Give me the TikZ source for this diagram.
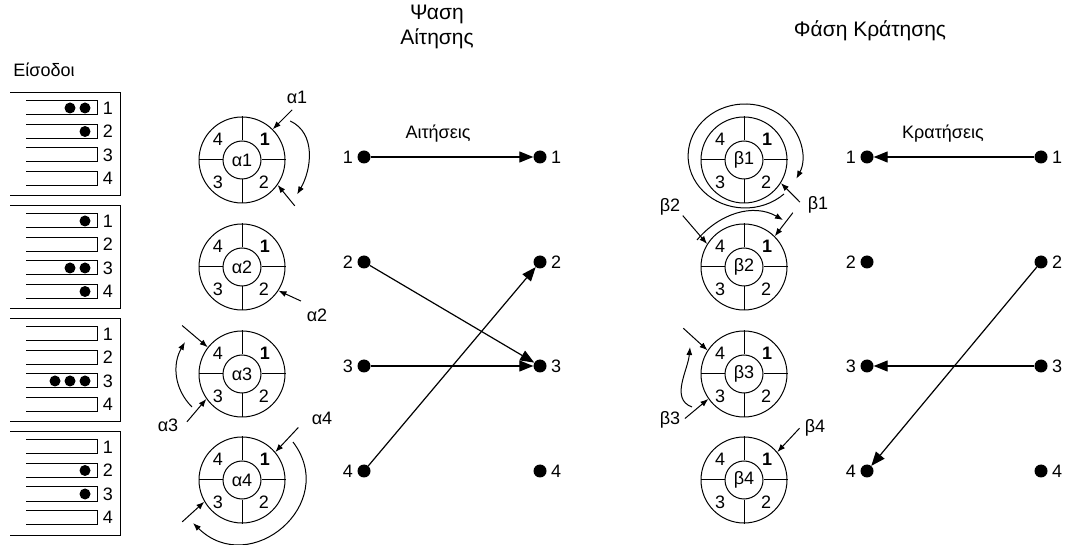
\documentclass[tikz,border=0pt]{standalone}
\usepackage{fontspec}
\setmainfont{Liberation Sans}
\usetikzlibrary{arrows.meta}

\tikzset{
  ring/.style={circle,draw,line width=1pt,minimum size=86pt,inner sep=0pt},
  hub/.style={circle,draw,line width=1pt,minimum size=38pt,inner sep=0pt},
  port/.style={circle,fill,inner sep=0pt,minimum size=13pt},
  lbl/.style={label distance=1pt},
  feed/.style={line width=1pt,-{Latex[length=8pt,width=6pt]}},
  req/.style={line width=1.2pt,-{Triangle[length=14pt,width=11pt]}},
  head/.style={font=\fontsize{21}{25}\selectfont,align=center},
}

% ring with four slots: name, centre text, x, y
\newcommand{\slotring}[4]{%
  \node[ring] (#1) at (#3,#4) {};
  \node[hub] (h#1) at (#3,#4) {#2};
  \draw[line width=1pt] (#1.north) -- (h#1.north) (#1.south) -- (h#1.south)
    (#1.east) -- (h#1.east) (#1.west) -- (h#1.west);
  \node (d4#1) at ([shift={(-24,21)}]#1.center) {4};
  \node (d1#1) at ([shift={(23,21)}]#1.center) {\bfseries 1};
  \node (d3#1) at ([shift={(-24,-22)}]#1.center) {3};
  \node (d2#1) at ([shift={(22,-22)}]#1.center) {2};
}

\begin{document}
\begin{tikzpicture}[x=1pt,y=1pt,font=\fontsize{18}{21}\selectfont]
  \useasboundingbox (0,0) rectangle (1069,544);

  \node (inputs) at (44,474) {Είσοδοι};
  \node[head] (reqhead) at (437,517) {Ψαση\\Αίτησης};
  \node[head] (grthead) at (870,513) {Φάση Κράτησης};

  % input queues
  \foreach \g in {0,...,3} {
    \pgfmathsetmacro{\gtop}{451-113*\g}
    \draw[line width=1pt] (10,\gtop) -| (120,\gtop-103) -- (10,\gtop-103);
    \foreach \q/\off in {1/15,2/38.5,3/62,4/85.5} {
      \draw[line width=1pt] (26,\gtop-\off+7) -| (97,\gtop-\off-7) -- (26,\gtop-\off-7);
      \node (n\g\q) at (108,\gtop-\off) {\q};
    }
  }
  \foreach \g/\q/\n in {0/1/2,0/2/1,1/1/1,1/3/2,1/4/1,2/3/3,3/2/1,3/3/1}
    \foreach \k in {1,...,\n}
      \fill (100-15*\k,451-113*\g-15-23.5*\q+23.5) circle (5.5);

  % rings
  \foreach \i/\y in {1/384,2/277,3/170,4/64} {
    \slotring{a\i}{α\i}{242}{\y}
    \slotring{b\i}{β\i}{744}{\y}
  }

  % requests and grants
  \foreach \i/\y in {1/387,2/282,3/178,4/73} {
    \node[port,label={[lbl]left:\i}] (rqL\i) at (364,\y) {};
    \node[port,label={[lbl]right:\i}] (rqR\i) at (540,\y) {};
    \node[port,label={[lbl]left:\i}] (bkL\i) at (867,\y) {};
    \node[port,label={[lbl]right:\i}] (bkR\i) at (1041,\y) {};
  }
  \node (reqlbl) at (438,410) {Αιτήσεις};
  \node (grtlbl) at (943,410) {Κρατήσεις};

  \draw[req] (rqL1) -- (rqR1);
  \draw[req] (rqL2) -- (rqR3);
  \draw[req] (rqL3) -- (rqR3);
  \draw[req] (rqL4) -- (rqR2);
  \draw[req] (bkR1) -- (bkL1);
  \draw[req] (bkR3) -- (bkL3);
  \draw[req] (bkR2) -- (bkL4);

  % pointers, alpha side
  \node (la1) at ([shift={(55,63)}]a1.center) {α1};
  \draw[feed] ([shift={(45:71)}]a1.center) -- (a1.45);
  \draw[feed] ([shift={(39:62)}]a1.center) to[out=-25,in=60] ([shift={(-32:65)}]a1.center);
  \draw[feed] ([shift={(-41:70)}]a1.center) -- (a1.-35);

  \node (la2) at ([shift={(75,-48)}]a2.center) {α2};
  \draw[feed] ([shift={(-30:68)}]a2.center) -- (a2.-33);

  \node (la3) at ([shift={(-74,-51)}]a3.center) {α3};
  \draw[feed] ([shift={(141:77)}]a3.center) -- (a3.142);
  \draw[feed] ([shift={(221:73)}]a3.center) -- (a3.215);
  \draw[feed] ([shift={(-50,-33)}]a3.center) to[out=135,in=-120] ([shift={(-57,32)}]a3.center);

  \node (la4) at ([shift={(80,62)}]a4.center) {α4};
  \draw[feed] ([shift={(43:77)}]a4.center) -- (a4.40);
  \draw[feed] ([shift={(51,38)}]a4.center) .. controls +(47,-62) and +(57,-56) .. ([shift={(-49,-43)}]a4.center);
  \draw[feed] ([shift={(215:73)}]a4.center) -- (a4.210);

  % pointers, beta side
  \node (lb1) at ([shift={(74,-45)}]b1.center) {β1};
  \draw[feed] ([shift={(-37:70)}]b1.center) -- (b1.-32);
  \draw[feed] ([shift={(40,-34)}]b1.center) arc[start angle=-47,end angle=-386,x radius=57,y radius=52];

  \node (lb2) at ([shift={(-74,60)}]b2.center) {β2};
  \draw[feed] ([shift={(140:80)}]b2.center) -- (b2.148);
  \draw[feed] ([shift={(-47,27)}]b2.center) to[out=50,in=150] ([shift={(39,47)}]b2.center);
  \draw[feed] ([shift={(48:73)}]b2.center) -- (b2.45);

  \node (lb3) at ([shift={(-74,-46)}]b3.center) {β3};
  \draw[feed] ([shift={(143:76)}]b3.center) -- (b3.147);
  \draw[feed] ([shift={(217:74)}]b3.center) -- (b3.215);
  \draw[feed] ([shift={(-52,-33)}]b3.center) to[out=160,in=-95] ([shift={(-54,27)}]b3.center);

  \node (lb4) at ([shift={(71,52)}]b4.center) {β4};
  \draw[feed] ([shift={(43:76)}]b4.center) -- (b4.40);
\end{tikzpicture}
\end{document}
